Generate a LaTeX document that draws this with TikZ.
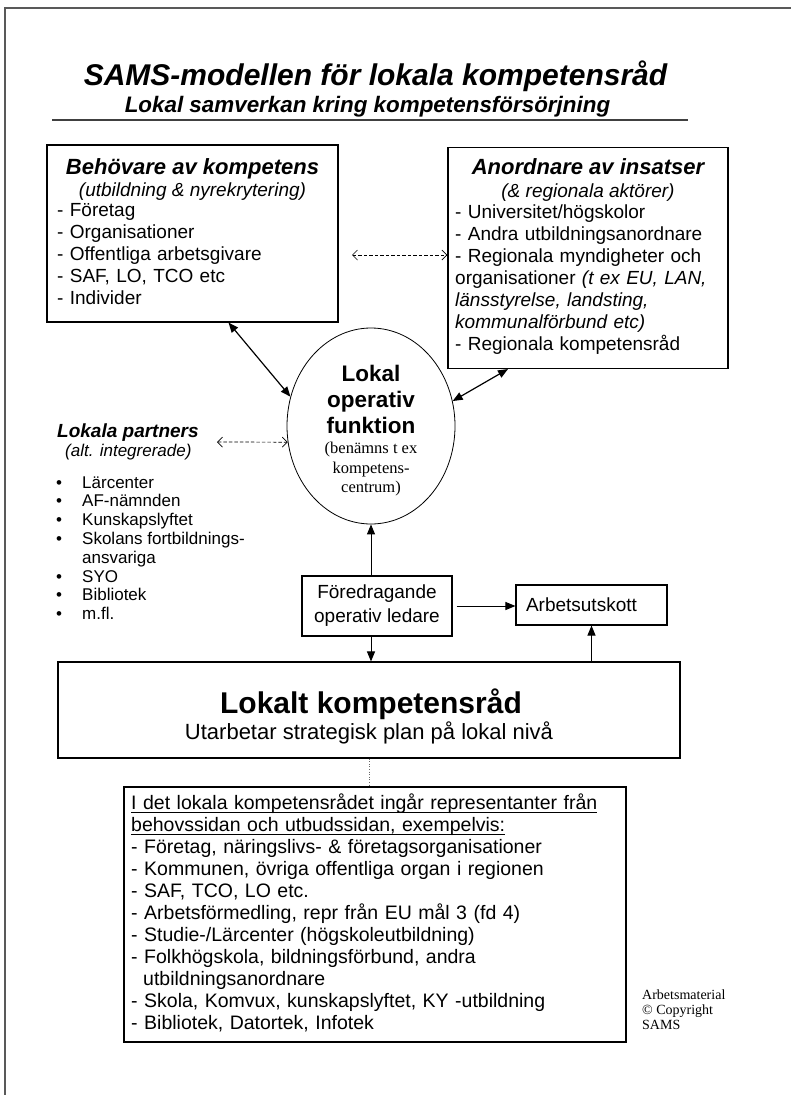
\documentclass[tikz,border=0pt]{standalone}
\usepackage{fontspec}
\setmainfont{Liberation Sans}
\newfontfamily\notefont{Liberation Serif}
\usetikzlibrary{shapes.geometric, arrows.meta}

\newcommand{\fsz}[2]{\fontsize{#1}{#2}\selectfont}
\newcommand{\ulin}[1]{\leavevmode\setbox0\hbox{#1}\rlap{\rule[-3pt]{\wd0}{0.9pt}}\box0}

\begin{document}
\begin{tikzpicture}[x=1pt, y=-1pt,
        box/.style={draw, line width=1.1pt, inner sep=0pt},
        listtext/.style={anchor=north west, inner sep=0pt, align=left, font={\fsz{19}{22}}},
        arr/.style={-{Triangle[length=10pt, width=8pt]}, line width=1pt},
        dblarr/.style={{Triangle[length=10pt, width=8pt]}-{Triangle[length=10pt, width=8pt]}, line width=1.2pt},
        dasharr/.style={{Straight Barb[length=5pt, width=10pt]}-{Straight Barb[length=5pt, width=10pt]}, line width=0.7pt, dash pattern=on 3.5pt off 2pt}]
        \useasboundingbox (0,0) rectangle (791,1095);

        % Frame and heading
        \draw[line width=2pt, black!65] (5,1095) -- (5,7.5) -- (791,7.5);
        \node[anchor=base, font={\fsz{30}{32}\bfseries\itshape}] at (375.5, 85)  (title)    {SAMS-modellen för lokala kompetensråd};
        \node[anchor=base, font={\fsz{22.4}{24}\bfseries\itshape}] at (367.5, 112)  (subtitle)    {Lokal samverkan kring kompetensförsörjning};
        \draw[line width=1.2pt, black!75] (52,120) -- (688,120);

        % Behövare
        \node[box, minimum width=291pt, minimum height=177pt] at (192.5, 233.5)  (behov)    {};
        \node[anchor=base, font={\fsz{22}{24}\bfseries\itshape}] at (192.5, 174)  (behovtitle)    {Behövare av kompetens};
        \node[anchor=base, font={\fsz{19}{22}\itshape}] at (192.5, 196)  (behovsub)    {(utbildning \& nyrekrytering)};
        \node[listtext, text width=270pt] at (57, 200.6)  (behovlist)    {\strut- Företag\\
            - Organisationer\\
            - Offentliga arbetsgivare\\
            - SAF, LO, TCO etc\\
            - Individer};

        % Anordnare
        \node[box, minimum width=280pt, minimum height=221pt] at (588, 258)  (anord)    {};
        \node[anchor=base, font={\fsz{22}{24}\bfseries\itshape}] at (588, 174)  (anordtitle)    {Anordnare av insatser};
        \node[anchor=base, font={\fsz{19}{22}\itshape}] at (588, 197)  (anordsub)    {(\& regionala aktörer)};
        \node[listtext, text width=272pt] at (455, 202.6)  (anordlist)    {\strut- Universitet/högskolor\\
            - Andra utbildningsanordnare\\
            - Regionala myndigheter och\\
            organisationer \textit{(t ex EU, LAN,}\\
            \textit{länsstyrelse, landsting,}\\
            \textit{kommunalförbund etc)}\\
            - Regionala kompetensråd};

        % Lokal operativ funktion
        \node[draw, ellipse, line width=0.8pt, minimum width=168pt, minimum height=196pt, inner sep=0pt] at (371, 426)  (funk)    {};
        \node[anchor=north, inner sep=0pt, align=center, font={\fsz{22.5}{26}\bfseries}] at (371, 363.3)  (funktitle)    {\strut Lokal\\operativ\\funktion};
        \node[anchor=north, inner sep=0pt, align=center, font={\notefont\fsz{16.5}{19.5}}] at (371, 439.9)  (funknote)    {\strut(benämns t ex\\kompetens-\\centrum)};

        % Lokala partners
        \node[anchor=base west, inner sep=0pt, font={\fsz{19}{22}\bfseries\itshape}] at (57, 437)  (parttitle)    {Lokala partners};
        \node[anchor=base west, inner sep=0pt, font={\fsz{17}{19}\itshape}] at (65, 456)  (partsub)    {(alt. integrerade)};
        \node[anchor=north west, inner sep=0pt, font={\fsz{17}{18.8}}] at (56, 474.8)  (partlist)    {\begin{tabular}{@{}p{26pt}@{}l@{}}
            • & Lärcenter\\
            • & AF-nämnden\\
            • & Kunskapslyftet\\
            • & Skolans fortbildnings-\\
              & ansvariga\\
            • & SYO\\
            • & Bibliotek\\
            • & m.fl.
            \end{tabular}};

        \coordinate (behovdash) at (352, 255);
        \coordinate (partdash) at (217, 442);

        \draw[dasharr]  (behovdash) -- ([yshift=3pt]anord.west);
        \draw[dasharr]  (partdash) -- (funk.191);
        \draw[dblarr]  ([xshift=36pt]behov.south) -- (funk.160);
        \draw[dblarr]  (funk.17) -- ([xshift=-80pt]anord.south);

        % Ledning och råd
        \node[box, inner sep=2pt, minimum width=150pt, minimum height=60pt, align=center, font={\fsz{19}{24}}] at (377, 606)  (foredrag)    {Föredragande\\operativ ledare};
        \node[box, inner xsep=10pt, text width=131pt, minimum height=40pt, align=left, font={\fsz{19}{22}}] at (591.5, 605)  (utskott)    {Arbetsutskott};
        \node[box, minimum width=622pt, minimum height=96pt] at (369, 710)  (rad)    {};
        \node[anchor=base, font={\fsz{30}{32}\bfseries}] at (371, 713)  (radtitle)    {Lokalt kompetensråd};
        \node[anchor=base, font={\fsz{22}{24}}] at (369, 739)  (radsub)    {Utarbetar strategisk plan på lokal nivå};

        \draw[arr]  (foredrag.north -| funk.south) -- (funk.south);
        \draw[arr]  (foredrag.south -| funk.south) -- (rad.north -| funk.south);
        \draw[arr]  ([xshift=4pt]foredrag.east) -- (foredrag.east -| utskott.west);
        \draw[arr]  (rad.north -| utskott.south) -- (utskott.south);

        % Representanter
        \node[box, minimum width=502pt, minimum height=255pt] at (375, 914.5)  (ingar)    {};
        \draw[dotted, line width=0.6pt, black!60]  (rad.south) -- (rad.south |- ingar.north);
        \node[listtext, text width=480pt, font={\fsz{19.5}{22}}] at (131, 793.6)  (ingartext)    {\strut\ulin{I det lokala kompetensrådet ingår representanter från}\\
            \ulin{behovssidan och utbudssidan, exempelvis:}\\
            - Företag, näringslivs- \& företagsorganisationer\\
            - Kommunen, övriga offentliga organ i regionen\\
            - SAF, TCO, LO etc.\\
            - Arbetsförmedling, repr från EU mål 3 (fd 4)\\
            - Studie-/Lärcenter (högskoleutbildning)\\
            - Folkhögskola, bildningsförbund, andra\\
            \hspace*{12pt}utbildningsanordnare\\
            - Skola, Komvux, kunskapslyftet, KY -utbildning\\
            - Bibliotek, Datortek, Infotek};

        \node[anchor=north west, inner sep=0pt, align=left, font={\notefont\fsz{14}{15}}] at (642, 989)  (kopia)    {\strut Arbetsmaterial\\© Copyright\\SAMS};
    \end{tikzpicture}
\end{document}
